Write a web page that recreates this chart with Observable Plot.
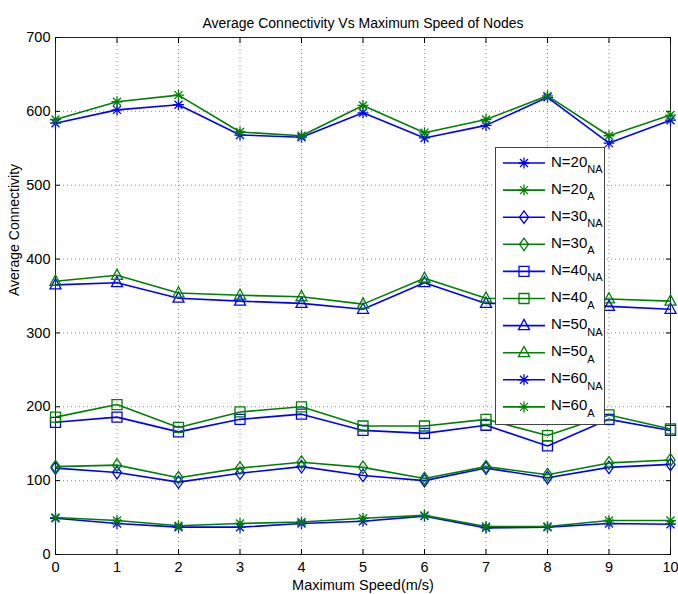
<!DOCTYPE html>
<html><head><meta charset="utf-8">
<script src="https://cdn.jsdelivr.net/npm/d3@7"></script>
<script src="https://cdn.jsdelivr.net/npm/@observablehq/plot@0.6"></script>
<style>
body{margin:0;background:#fff}
#wrap{position:relative;width:678px;height:594px;background:#fff}
#legend{position:absolute;left:495px;top:147px}
</style></head><body><div id="wrap"></div>
<script>
const speeds = [0,1,2,3,4,5,6,7,8,9,10];
const n20NA = [49,42,37,37,42,45,52,36,37,42,41];
const n20A  = [50,46,39,42,44,49,53,38,38,46,46];
const n30NA = [117,111,98,110,119,107,100,117,104,118,122];
const n30A  = [119,121,104,117,125,118,103,119,108,124,128];
const n40NA = [179,186,166,183,190,168,164,175,147,183,168];
const n40A  = [186,203,172,193,200,174,174,183,161,189,170];
const n50NA = [365,368,347,343,340,332,368,340,340,336,332];
const n50A  = [370,378,354,351,349,339,374,347,345,346,343];
const n60NA = [584,602,609,568,565,598,564,581,619,557,588];
const n60A  = [589,613,622,572,567,608,571,589,621,567,595];
const xTicks = [0,1,2,3,4,5,6,7,8,9,10];
const yTicks = [0,100,200,300,400,500,600,700];
const titleText = "Average Connectivity Vs Maximum Speed of Nodes";
const xLabel = "Maximum Speed(m/s)";
const yLabel = "Average Connectivity";
const blue = "#0000ff", green = "#008000";

const shapes = {
  star: {draw(c, s){ const r = Math.sqrt(s/Math.PI); const a=r*1.1, b=r*0.8;
    c.moveTo(-a,0);c.lineTo(a,0);c.moveTo(0,-a);c.lineTo(0,a);
    c.moveTo(-b,-b);c.lineTo(b,b);c.moveTo(-b,b);c.lineTo(b,-b);}},
  diamond: {draw(c, s){ const r = Math.sqrt(s/Math.PI);
    c.moveTo(0,-r*1.25);c.lineTo(r*0.9,0);c.lineTo(0,r*1.25);c.lineTo(-r*0.9,0);c.closePath();}},
  square: {draw(c, s){ const r = Math.sqrt(s/Math.PI);
    c.moveTo(-r,-r);c.lineTo(r,-r);c.lineTo(r,r);c.lineTo(-r,r);c.closePath();}},
  triangle: {draw(c, s){ const r = Math.sqrt(s/Math.PI);
    c.moveTo(0,-r*1.25);c.lineTo(r*1.1,r*0.8);c.lineTo(-r*1.1,r*0.8);c.closePath();}}
};

const series = [
  {label:"N=20", sub:"NA", values:n20NA, color:blue,  shape:"star"},
  {label:"N=20", sub:"A",  values:n20A,  color:green, shape:"star"},
  {label:"N=30", sub:"NA", values:n30NA, color:blue,  shape:"diamond"},
  {label:"N=30", sub:"A",  values:n30A,  color:green, shape:"diamond"},
  {label:"N=40", sub:"NA", values:n40NA, color:blue,  shape:"square"},
  {label:"N=40", sub:"A",  values:n40A,  color:green, shape:"square"},
  {label:"N=50", sub:"NA", values:n50NA, color:blue,  shape:"triangle"},
  {label:"N=50", sub:"A",  values:n50A,  color:green, shape:"triangle"},
  {label:"N=60", sub:"NA", values:n60NA, color:blue,  shape:"star"},
  {label:"N=60", sub:"A",  values:n60A,  color:green, shape:"star"}
];

const seriesMarks = series.flatMap(s => {
  const rows = speeds.map((x,i) => ({x, y: s.values[i]}));
  return [
    Plot.line(rows, {x:"x", y:"y", stroke:s.color, strokeWidth:1.6}),
    Plot.dot(rows, {x:"x", y:"y", symbol:shapes[s.shape], r:5, stroke:s.color, fill:"none", strokeWidth:1.3})
  ];
});

const chart = Plot.plot({
  width:678, height:594,
  marginLeft:55, marginRight:8, marginTop:37, marginBottom:40,
  style:{fontFamily:"'Liberation Sans', Arial, sans-serif", fontSize:"14px", background:"white", color:"black"},
  x:{domain:[0,10]},
  y:{domain:[0,700]},
  marks:[
    Plot.gridX(xTicks, {stroke:"#8a8a8a", strokeOpacity:1, strokeDasharray:"1,3"}),
    Plot.gridY(yTicks, {stroke:"#8a8a8a", strokeOpacity:1, strokeDasharray:"1,3"}),
    Plot.frame({stroke:"#222"}),
    Plot.axisX(xTicks, {anchor:"bottom", tickSize:-5, tickPadding:12, label:null, fontSize:14.5}),
    Plot.axisX(xTicks, {anchor:"top", tickSize:-5, tickFormat:() => "", label:null}),
    Plot.axisY(yTicks, {anchor:"left", tickSize:-5, tickPadding:10, label:null, fontSize:14.5}),
    Plot.axisY(yTicks, {anchor:"right", tickSize:-5, tickFormat:() => "", label:null}),
    ...seriesMarks,
    Plot.text([titleText], {text:d=>d, frameAnchor:"top", dy:-19, fontSize:14}),
    Plot.text([xLabel], {text:d=>d, frameAnchor:"bottom", lineAnchor:"bottom", dy:35, fontSize:14.5}),
    Plot.text([yLabel], {text:d=>d, frameAnchor:"left", dx:-41, rotate:-90, fontSize:14})
  ]
});
const wrap = document.getElementById("wrap");
wrap.appendChild(chart);

// legend
const lw = 109, lh = 277, step = 27.1;
const leg = d3.create("svg").attr("id","legend").attr("width", lw+1).attr("height", lh+1)
  .style("font-family","'Liberation Sans', Arial, sans-serif");
leg.append("rect").attr("x",0.5).attr("y",0.5).attr("width",lw).attr("height",lh)
  .attr("fill","white").attr("stroke","#444");
series.forEach((s,i) => {
  const cy = 16 + i*step;
  const g = leg.append("g");
  g.append("line").attr("x1",8).attr("x2",50).attr("y1",cy).attr("y2",cy)
    .attr("stroke",s.color).attr("stroke-width",1.6);
  g.append("path").attr("transform",`translate(29,${cy})`)
    .attr("d", d3.symbol(shapes[s.shape], Math.PI*25)())
    .attr("fill","none").attr("stroke",s.color).attr("stroke-width",1.3);
  const t = g.append("text").attr("x",56).attr("y",cy+3.5).attr("font-size",15).attr("fill","#000");
  t.append("tspan").text(s.label);
  t.append("tspan").attr("dy",6.5).attr("font-size",11).text(s.sub);
});
wrap.appendChild(leg.node());
</script></body></html>
